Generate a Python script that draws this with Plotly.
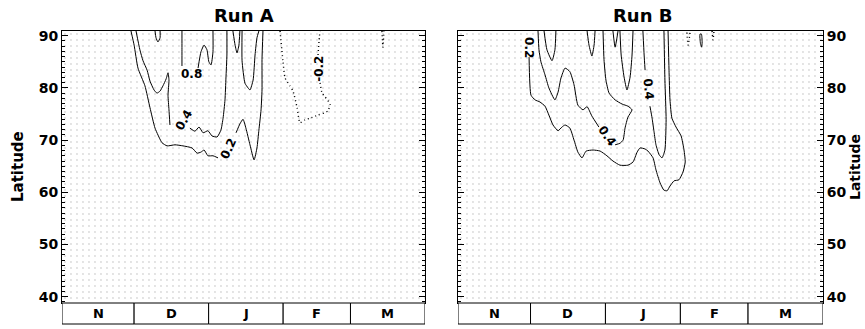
import plotly.graph_objects as go

# ---------------- axis data ----------------
lat_range = [38.8, 90.9]
day_range = [0, 151]                 # days since 1 November
lat_ticks = [40, 50, 60, 70, 80, 90]
month_names = ["N", "D", "J", "F", "M"]
month_start = [0, 30, 61, 92, 120]
month_end = [30, 61, 92, 120, 151]
titles = ["Run A", "Run B"]

# ---------------- Run A contour lines (day, latitude) ----------------
a02_s1_day = [28.7, 30.0, 31.6, 34.5, 36.6, 38.7, 41.6, 43.7, 47.0, 50.3, 54.1, 56.2, 57.8, 59.1, 60.7, 62.8, 64.9]
a02_s1_lat = [90.9, 88.2, 83.8, 80.4, 76.2, 72.3, 69.5, 68.9, 69.1, 68.9, 68.5, 67.5, 67.7, 68.1, 67.0, 67.0, 66.6]
a02_s2_day = [72.4, 74.0, 75.3, 76.5, 78.2, 79.9, 81.1, 81.9, 82.8, 83.2, 83.2, 83.6]
a02_s2_lat = [71.4, 73.1, 74.0, 72.3, 69.1, 66.2, 68.5, 71.9, 75.8, 79.6, 85.4, 90.9]

a04_s1_day = [30.8, 32.4, 33.7, 35.4, 36.6, 38.3, 39.5, 40.8, 42.0, 43.3, 44.1, 44.5, 44.1, 44.5, 44.9]
a04_s1_lat = [90.9, 87.3, 85.2, 83.4, 81.3, 79.6, 79.0, 79.4, 80.4, 81.7, 82.9, 81.5, 78.6, 75.8, 72.9]
a04_s2_day = [53.2, 55.3, 57.0, 58.7, 60.7, 62.4, 64.5, 66.1, 67.0, 67.8, 68.2, 68.6, 68.6]
a04_s2_lat = [72.3, 71.7, 72.5, 71.4, 71.8, 70.8, 70.6, 71.9, 74.2, 77.7, 81.9, 86.3, 90.9]

a08_s1_day = [49.9, 49.9, 49.9]
a08_s1_lat = [90.9, 87.3, 84.2]
a08_s2_day = [56.6, 57.8, 59.1, 60.3, 61.1, 62.0, 62.8, 62.8]
a08_s2_lat = [83.8, 86.9, 88.2, 87.3, 85.0, 84.4, 86.9, 90.9]

a_cup1_day = [38.7, 39.1, 39.9, 40.8, 40.8]
a_cup1_lat = [90.9, 89.6, 88.8, 89.6, 90.9]
a_cup2_day = [71.1, 72.0, 72.8, 73.6, 74.0]
a_cup2_lat = [90.9, 88.2, 86.7, 88.2, 90.9]
a_cup3_day = [74.9, 74.9, 76.1, 77.4, 78.2, 79.5, 80.3, 81.1, 81.9]
a_cup3_lat = [90.9, 85.2, 80.9, 80.0, 79.6, 81.5, 86.3, 89.6, 90.9]

a_n02_s1_day = [90.7, 91.9, 92.8, 94.8, 96.1, 97.8, 99.0, 101.1, 103.2, 106.5, 109.0, 110.6, 111.5, 109.4, 108.2, 107.3]
a_n02_s1_lat = [90.9, 85.2, 81.9, 80.4, 79.4, 76.2, 73.3, 73.9, 74.2, 74.8, 75.2, 75.6, 76.9, 78.3, 79.0, 81.1]
a_n02_s2_day = [106.5, 106.9, 107.3]
a_n02_s2_lat = [86.3, 88.8, 90.9]
a_n02_s3_day = [133.1, 133.5, 133.9]
a_n02_s3_lat = [90.9, 87.8, 90.9]

a_lab_day = [53.9, 50.7, 69.2, 106.6]
a_lab_lat = [82.6, 73.9, 68.3, 83.7]
a_lab_text = ["0.8", "0.4", "0.2", "-0.2"]
a_lab_angle = [0, -60, -65, -90]

# ---------------- Run B contour lines (day, latitude) ----------------
b02_day = [29.4, 30.2, 31.9, 33.9, 36.0, 37.6, 39.3, 41.4, 43.0, 44.3, 46.3, 48.0, 49.6, 51.3, 53.0, 55.9,
           58.8, 61.6, 64.1, 67.0, 70.3, 72.4, 74.1, 75.3, 77.4, 78.6, 80.7, 81.9, 83.6, 85.2, 86.5, 87.7,
           89.4, 91.4, 93.1, 94.0, 93.5, 92.3, 90.2, 88.5, 87.7, 87.3, 86.9]
b02_lat = [85.9, 78.6, 77.7, 77.3, 76.5, 74.8, 72.9, 71.8, 72.5, 72.9, 72.3, 70.0, 67.7, 66.6, 67.9, 68.1,
           67.9, 67.0, 66.0, 65.2, 65.2, 65.8, 67.7, 68.5, 68.3, 67.9, 66.6, 64.3, 61.8, 60.4, 60.3, 61.2,
           62.2, 62.4, 63.9, 65.8, 68.1, 70.8, 72.5, 74.2, 77.7, 83.4, 90.9]

b04_s1_day = [33.1, 33.5, 34.3, 36.0, 37.6, 40.1, 41.4, 42.6, 44.3, 46.3, 48.0, 49.6, 51.7, 53.4, 55.4, 58.3]
b04_s1_lat = [90.9, 87.3, 85.0, 82.5, 80.0, 77.7, 79.2, 81.9, 83.8, 83.1, 80.6, 76.7, 75.8, 76.4, 74.6, 72.5]
b04_s2_day = [65.0, 67.0, 68.3, 69.1, 70.3, 72.0, 70.3, 67.9, 65.0, 62.5, 61.2, 60.4, 60.0]
b04_s2_lat = [69.1, 69.4, 70.0, 72.3, 74.4, 75.8, 76.5, 76.9, 77.7, 79.0, 81.5, 85.4, 90.9]
b04_s3_day = [76.5, 77.0, 77.4]
b04_s3_lat = [90.9, 86.3, 83.4]
b04_s4_day = [79.4, 80.3, 81.1, 81.9, 83.2, 84.4, 85.6, 86.1, 85.6, 85.2]
b04_s4_lat = [76.5, 74.2, 71.6, 69.1, 67.2, 66.6, 68.1, 73.9, 81.5, 90.9]

b_cup1_day = [35.6, 36.8, 38.9, 40.1, 40.5]
b_cup1_lat = [90.9, 87.3, 85.2, 87.3, 90.9]
b_cup2_day = [53.4, 54.2, 55.4, 56.3, 56.7]
b_cup2_lat = [90.9, 88.2, 86.1, 88.2, 90.9]
b_cup3_day = [64.1, 65.0, 66.2]
b_cup3_lat = [90.9, 87.8, 90.9]
b_cup4_day = [67.0, 67.5, 68.7, 69.9, 71.2, 72.0, 72.4]
b_cup4_lat = [90.9, 86.3, 82.1, 79.6, 82.1, 86.3, 90.9]
b_oval_day = [100.1, 100.3, 100.8, 101.0, 100.7, 100.1]
b_oval_lat = [90.3, 88.5, 87.8, 88.8, 90.3, 90.3]

b_n02_s1_day = [94.7, 95.2, 96.0]
b_n02_s1_lat = [90.6, 88.2, 90.6]
b_n02_s2_day = [105.1, 105.5, 105.9]
b_n02_s2_lat = [90.9, 89.2, 90.9]

b_lab_day = [29.4, 61.6, 78.6]
b_lab_lat = [87.8, 70.7, 79.7]
b_lab_text = ["0.2", "0.4", "0.4"]
b_lab_angle = [90, 55, 85]

# ---------------- figure ----------------
W, H = 865, 329
FONT = "DejaVu Sans"
xdomA = [62 / W, 425 / W]
xdomB = [458 / W, 823 / W]
ydom = [1 - 303 / H, 1 - 31 / H]
box_bottom = 1 - 324 / H

fig = go.Figure()


def line(days, lats, xa, ya, dash="solid", width=1.0):
    fig.add_trace(go.Scatter(
        x=days, y=lats, mode="lines", xaxis=xa, yaxis=ya,
        line=dict(color="black", width=width, dash=dash, shape="spline", smoothing=0.5),
        hoverinfo="skip", showlegend=False))


# stippled background
for xa, ya in [("x", "y"), ("x2", "y2")]:
    fig.add_trace(go.Scatter(
        x=[day_range[0], day_range[1], day_range[1], day_range[0], day_range[0]],
        y=[lat_range[0], lat_range[0], lat_range[1], lat_range[1], lat_range[0]],
        mode="none", fill="toself", fillcolor="rgba(0,0,0,0)",
        fillpattern=dict(shape=".", fgcolor="#b4b4b4", bgcolor="white", size=6, solidity=0.08),
        xaxis=xa, yaxis=ya, hoverinfo="skip", showlegend=False))

# Run A
for d, l in [(a02_s1_day, a02_s1_lat), (a02_s2_day, a02_s2_lat), (a04_s1_day, a04_s1_lat),
             (a04_s2_day, a04_s2_lat), (a08_s1_day, a08_s1_lat), (a08_s2_day, a08_s2_lat),
             (a_cup1_day, a_cup1_lat), (a_cup2_day, a_cup2_lat), (a_cup3_day, a_cup3_lat)]:
    line(d, l, "x", "y")
for d, l in [(a_n02_s1_day, a_n02_s1_lat), (a_n02_s2_day, a_n02_s2_lat), (a_n02_s3_day, a_n02_s3_lat)]:
    line(d, l, "x", "y", dash="1px,3px", width=1.4)

# Run B
for d, l in [(b02_day, b02_lat), (b04_s1_day, b04_s1_lat), (b04_s2_day, b04_s2_lat),
             (b04_s3_day, b04_s3_lat), (b04_s4_day, b04_s4_lat), (b_cup1_day, b_cup1_lat),
             (b_cup2_day, b_cup2_lat), (b_cup3_day, b_cup3_lat), (b_cup4_day, b_cup4_lat),
             (b_oval_day, b_oval_lat)]:
    line(d, l, "x2", "y2")
for d, l in [(b_n02_s1_day, b_n02_s1_lat), (b_n02_s2_day, b_n02_s2_lat)]:
    line(d, l, "x2", "y2", dash="1px,3px", width=1.4)

annotations = []
for days, lats, texts, angles, xr, yr in [(a_lab_day, a_lab_lat, a_lab_text, a_lab_angle, "x", "y"),
                                          (b_lab_day, b_lab_lat, b_lab_text, b_lab_angle, "x2", "y2")]:
    for d, l, t, a in zip(days, lats, texts, angles):
        annotations.append(dict(x=d, y=l, xref=xr, yref=yr, text=t, textangle=a, showarrow=False,
                                xanchor="center", yanchor="middle",
                                font=dict(family=FONT, size=12, color="black", weight="bold")))

# month boxes
shapes = []
for xr, dom in [("x", xdomA), ("x2", xdomB)]:
    for name, s, e in zip(month_names, month_start, month_end):
        shapes.append(dict(type="rect", xref=xr, yref="paper", x0=s, x1=e, y0=box_bottom, y1=ydom[0],
                           line=dict(color="black", width=1), fillcolor="white", layer="above"))
        annotations.append(dict(x=(s + e) / 2, y=(box_bottom + ydom[0]) / 2, xref=xr, yref="paper",
                                text=name, showarrow=False, xanchor="center", yanchor="middle",
                                font=dict(family=FONT, size=13, color="black", weight="bold")))


def paper_text(px, py, text, size, angle=0):
    annotations.append(dict(x=px / W, y=1 - py / H, xref="paper", yref="paper", text=text,
                            textangle=angle, showarrow=False, xanchor="center", yanchor="middle",
                            font=dict(family=FONT, size=size, color="black", weight="bold")))


paper_text(244, 15, titles[0], 18)
paper_text(642, 15, titles[1], 18)
paper_text(18, 167, "Latitude", 15, -90)
paper_text(855, 167, "Latitude", 14, -90)

xcommon = dict(range=day_range, showgrid=False, zeroline=False, showticklabels=False, ticks="",
               showline=True, linecolor="black", linewidth=1, mirror=True, fixedrange=True)
ycommon = dict(range=lat_range, showgrid=False, zeroline=False, tickvals=lat_ticks,
               ticks="inside", ticklen=6, tickcolor="black", tickwidth=1,
               minor=dict(dtick=1, ticks="inside", ticklen=3, tickcolor="black", tickwidth=1),
               showline=True, linecolor="black", linewidth=1, mirror="allticks",
               tickfont=dict(family=FONT, size=14, color="black", weight="bold"), fixedrange=True)

fig.update_layout(
    width=W, height=H, margin=dict(l=0, r=0, t=0, b=0, autoexpand=False),
    paper_bgcolor="white", plot_bgcolor="white",
    xaxis=dict(domain=xdomA, anchor="y", **xcommon),
    yaxis=dict(domain=ydom, anchor="x", side="left", **ycommon),
    xaxis2=dict(domain=xdomB, anchor="y2", **xcommon),
    yaxis2=dict(domain=ydom, anchor="x2", side="right", **ycommon),
    annotations=annotations, shapes=shapes, showlegend=False,
)

fig.write_html("out.html", config={"displayModeBar": False},
               post_script="document.body.style.margin='0';")
